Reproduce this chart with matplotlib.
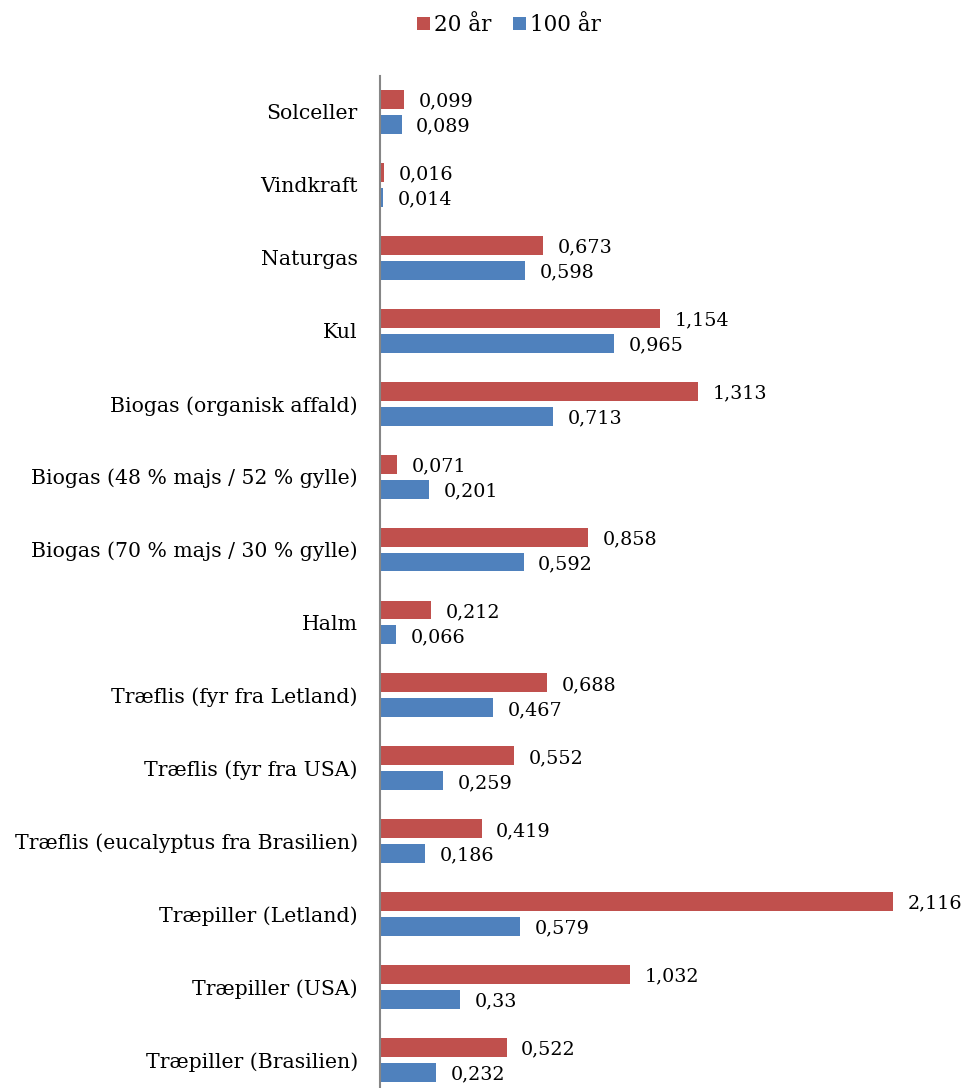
import matplotlib
matplotlib.use("Agg")
import matplotlib.pyplot as plt
import numpy as np

categories = [
    "Solceller",
    "Vindkraft",
    "Naturgas",
    "Kul",
    "Biogas (organisk affald)",
    "Biogas (48 % majs / 52 % gylle)",
    "Biogas (70 % majs / 30 % gylle)",
    "Halm",
    "Træflis (fyr fra Letland)",
    "Træflis (fyr fra USA)",
    "Træflis (eucalyptus fra Brasilien)",
    "Træpiller (Letland)",
    "Træpiller (USA)",
    "Træpiller (Brasilien)",
]
values_20 = [0.099, 0.016, 0.673, 1.154, 1.313, 0.071, 0.858, 0.212, 0.688, 0.552, 0.419, 2.116, 1.032, 0.522]
values_100 = [0.089, 0.014, 0.598, 0.965, 0.713, 0.201, 0.592, 0.066, 0.467, 0.259, 0.186, 0.579, 0.33, 0.232]
series_names = ["20 år", "100 år"]

RED = "#C0504D"
BLUE = "#4F81BD"
FONT = "DejaVu Serif"
plt.rcParams["font.family"] = FONT

W, H = 963, 1088
fig = plt.figure(figsize=(W / 100, H / 100), dpi=100)
left = 380 / W
top = 75.5 / H
bottom = 1096.5 / H
ax = fig.add_axes([left, 1 - bottom, 1 - left, bottom - top])

y = np.arange(len(categories))
off = 0.171
h = 0.26
b20 = ax.barh(y - off, values_20, height=h, color=RED, label=series_names[0])
b100 = ax.barh(y + off, values_100, height=h, color=BLUE, label=series_names[1])

ax.set_ylim(len(categories) - 0.5, -0.5)
ax.set_xlim(0, (W - 380) / 242.4)

def fmt(v):
    s = f"{v:.3f}".rstrip("0").rstrip(".")
    return s.replace(".", ",")

for bars, vals in ((b20, values_20), (b100, values_100)):
    for rect, v in zip(bars, vals):
        ax.annotate(fmt(v), (rect.get_width(), rect.get_y() + rect.get_height() / 2),
                    xytext=(10.5, -1.5), textcoords="offset points",
                    ha="left", va="center", fontsize=13.8, color="black",
                    annotation_clip=False)

ax.set_yticks(y)
ax.set_yticklabels(categories, fontsize=14.7)
ax.tick_params(axis="y", length=0, pad=16)
ax.set_xticks([])
for s in ("top", "right", "bottom"):
    ax.spines[s].set_visible(False)
ax.spines["left"].set_color("#868686")
ax.spines["left"].set_linewidth(1.5)

fig.legend(handles=[b20, b100], labels=series_names, loc="center",
           bbox_to_anchor=(509 / W, 1 - 25 / H), ncol=2, frameon=False,
           fontsize=15.5, handlelength=0.6, handleheight=0.6, handletextpad=0.2,
           columnspacing=1.0)

fig.savefig("out.png", dpi=100)
